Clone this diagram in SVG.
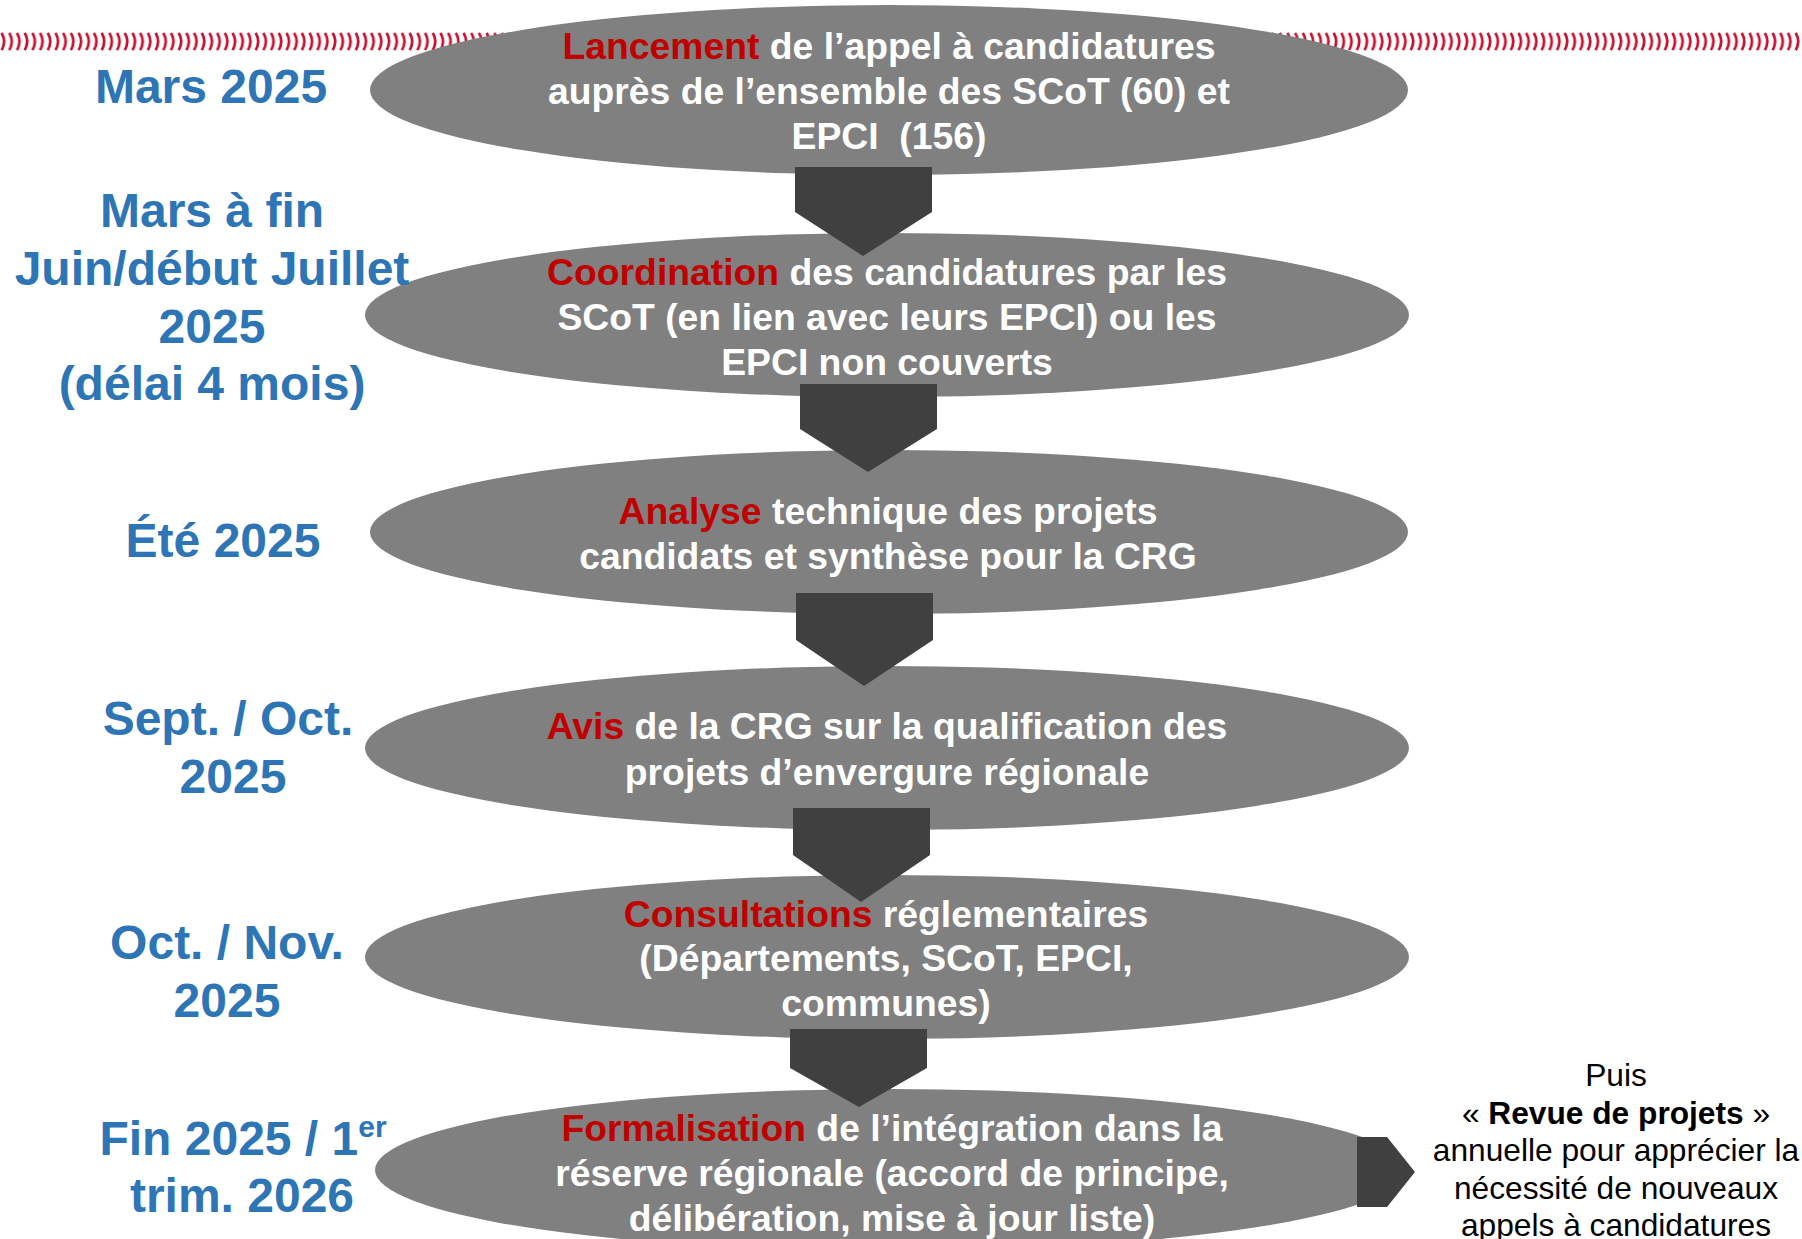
<svg xmlns="http://www.w3.org/2000/svg" width="1802" height="1239" viewBox="0 0 1802 1239">
<defs>
<style>
.bg{fill:#ffffff}
.step{fill:#808080}
.arr{fill:#404040}
.t{font-family:"Liberation Sans",Arial,sans-serif;font-weight:bold;font-size:37.3px;fill:#ffffff;text-anchor:middle}
.k{fill:#C00000}
.d{font-family:"Liberation Sans",Arial,sans-serif;font-weight:bold;font-size:48px;fill:#2E75B6;text-anchor:middle}
.n{font-family:"Liberation Sans",Arial,sans-serif;font-size:31.7px;fill:#000000;text-anchor:middle}
</style>
<pattern id="chev" x="0" y="32" width="7.7" height="19" patternUnits="userSpaceOnUse">
<path d="M1.6,0.8 Q6.6,9.5 1.6,18.2" fill="none" stroke="#C8102E" stroke-width="2.7"/>
</pattern>
</defs>
<rect class="bg" x="0" y="0" width="1802" height="1239"/>
<rect id="timeline-band" x="0" y="32" width="1802" height="19" fill="url(#chev)"/>

<g id="step1">
<ellipse class="step" cx="889" cy="90" rx="519" ry="85"/>
<text class="t" x="889" y="59"><tspan class="k">Lancement</tspan> de l’appel à candidatures</text>
<text class="t" x="889" y="104">auprès de l’ensemble des SCoT (60) et</text>
<text class="t" x="889" y="149" xml:space="preserve">EPCI  (156)</text>
</g>
<g id="step2">
<ellipse class="step" cx="887" cy="315" rx="522" ry="82"/>
</g>
<g id="step3">
<ellipse class="step" cx="889" cy="532" rx="519" ry="82"/>
</g>
<g id="step4">
<ellipse class="step" cx="887" cy="748" rx="522" ry="82"/>
</g>
<g id="step5">
<ellipse class="step" cx="887" cy="957" rx="522" ry="82"/>
</g>
<g id="step6">
<ellipse class="step" cx="891" cy="1170" rx="516" ry="81"/>
</g>

<g id="connectors">
<polygon class="arr" points="795,167 932,167 932,212 863,256 795,212"/>
<polygon class="arr" points="800,384 937,384 937,429 868,472 800,429"/>
<polygon class="arr" points="796,593 933,593 933,640 864,686 796,640"/>
<polygon class="arr" points="793,808 930,808 930,855 861,902 793,855"/>
<polygon class="arr" points="790,1029 927,1029 927,1068 859,1107 790,1068"/>
<polygon class="arr" points="1357,1137 1387,1137 1415,1172 1387,1207 1357,1207"/>
</g>

<g id="step2-text">
<text class="t" x="887" y="285"><tspan class="k">Coordination</tspan> des candidatures par les</text>
<text class="t" x="887" y="330">SCoT (en lien avec leurs EPCI) ou les</text>
<text class="t" x="887" y="375">EPCI non couverts</text>
</g>
<g id="step3-text">
<text class="t" x="888" y="524"><tspan class="k">Analyse</tspan> technique des projets</text>
<text class="t" x="888" y="569">candidats et synthèse pour la CRG</text>
</g>
<g id="step4-text">
<text class="t" x="887" y="739"><tspan class="k">Avis</tspan> de la CRG sur la qualification des</text>
<text class="t" x="887" y="785">projets d’envergure régionale</text>
</g>
<g id="step5-text">
<text class="t" x="886" y="927"><tspan class="k">Consultations</tspan> réglementaires</text>
<text class="t" x="886" y="971">(Départements, SCoT, EPCI,</text>
<text class="t" x="886" y="1016">communes)</text>
</g>
<g id="step6-text">
<text class="t" x="892" y="1141"><tspan class="k">Formalisation</tspan> de l’intégration dans la</text>
<text class="t" x="892" y="1186">réserve régionale (accord de principe,</text>
<text class="t" x="892" y="1231">délibération, mise à jour liste)</text>
</g>

<g id="date1"><text class="d" x="211" y="103">Mars 2025</text></g>
<g id="date2">
<text class="d" x="212" y="227">Mars à fin</text>
<text class="d" x="212" y="285">Juin/début Juillet</text>
<text class="d" x="212" y="343">2025</text>
<text class="d" x="212" y="400">(délai 4 mois)</text>
</g>
<g id="date3"><text class="d" x="223" y="557">Été 2025</text></g>
<g id="date4">
<text class="d" x="228" y="735">Sept. / Oct.</text>
<text class="d" x="233" y="793">2025</text>
</g>
<g id="date5">
<text class="d" x="227" y="959">Oct. / Nov.</text>
<text class="d" x="227" y="1017">2025</text>
</g>
<g id="date6">
<text class="d" x="243" y="1155">Fin 2025 / 1<tspan font-size="30" dy="-18">er</tspan></text>
<text class="d" x="242" y="1212">trim. 2026</text>
</g>

<g id="note">
<text class="n" x="1616" y="1086">Puis</text>
<text class="n" x="1616" y="1124">« <tspan font-weight="bold">Revue de projets</tspan> »</text>
<text class="n" x="1616" y="1161">annuelle pour apprécier la</text>
<text class="n" x="1616" y="1199">nécessité de nouveaux</text>
<text class="n" x="1616" y="1236">appels à candidatures</text>
</g>
</svg>
